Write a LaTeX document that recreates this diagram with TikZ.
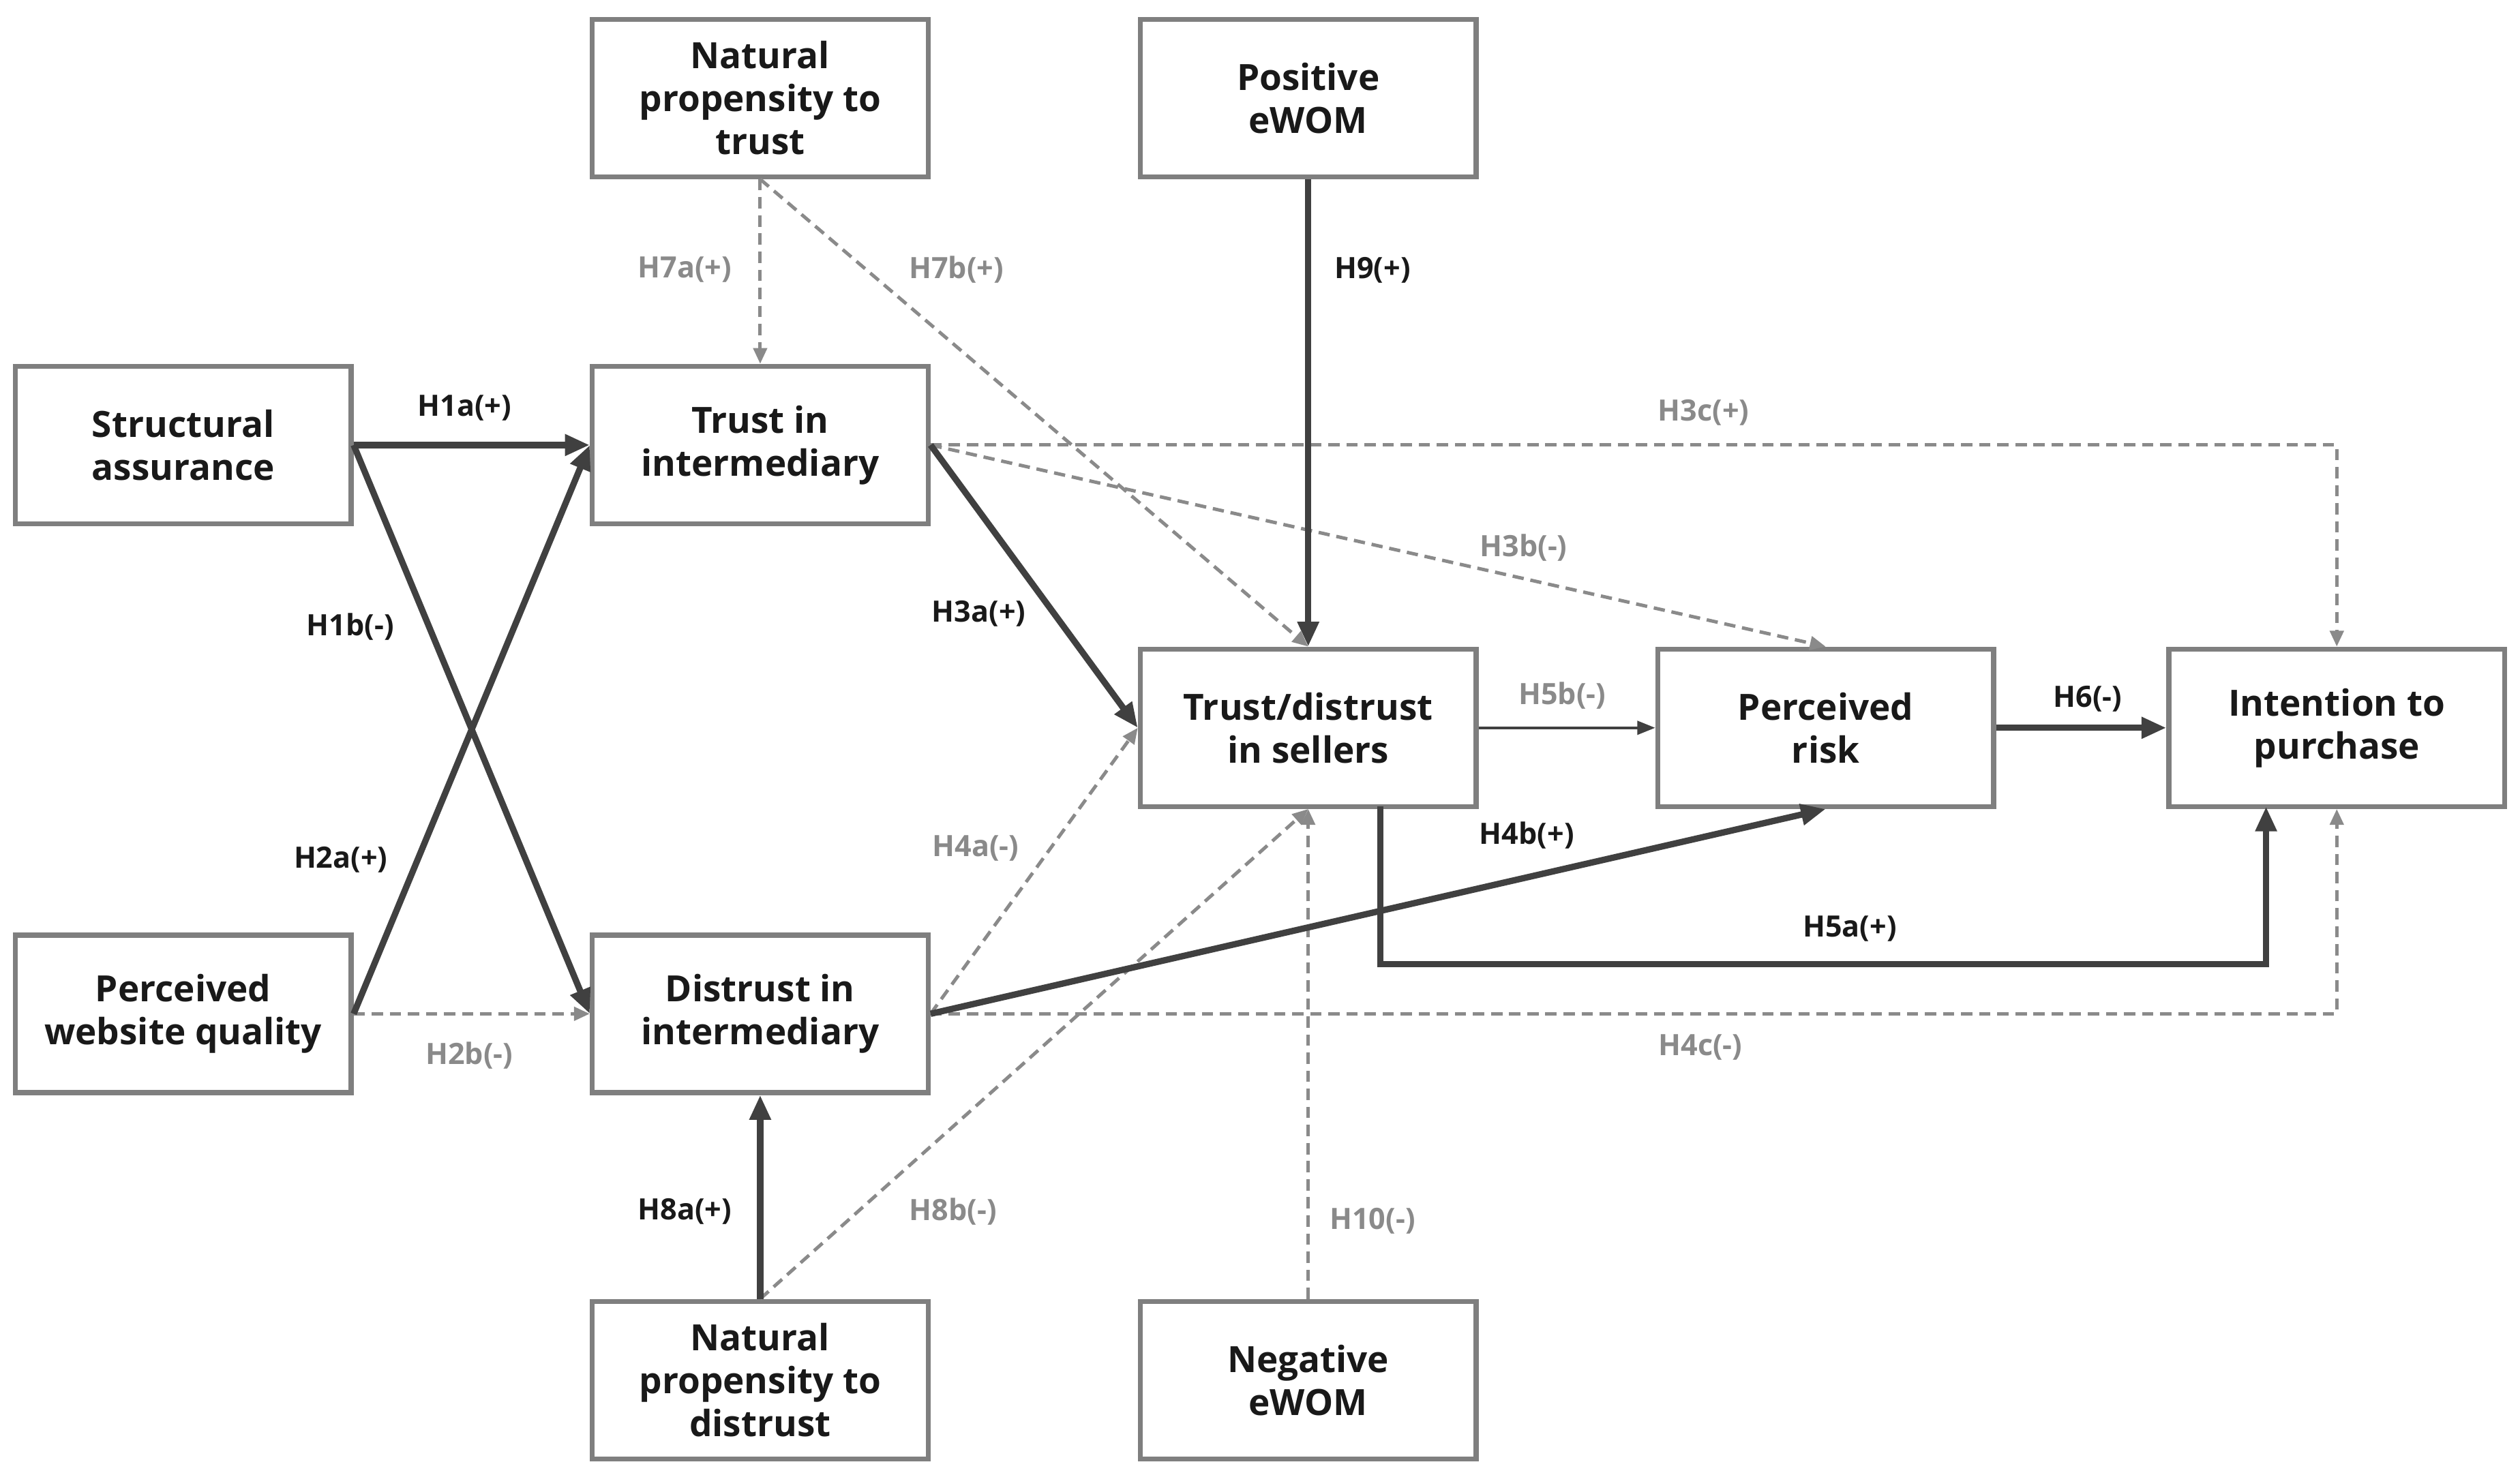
\documentclass[tikz,border=0pt]{standalone}
\usepackage{fontspec}
\setmainfont{Open Sans}
\usetikzlibrary{arrows.meta}
\definecolor{bx}{HTML}{7F7F7F}
\definecolor{dk}{HTML}{404040}
\definecolor{gr}{HTML}{8A8A8A}
\begin{document}
\begin{tikzpicture}[x=0.025cm,y=-0.025cm,
 box/.style={draw=bx,line width=2.2pt,minimum width=209*0.025cm,minimum height=98*0.025cm,align=center,font=\fontsize{16}{19}\selectfont\bfseries,text=black!90,inner sep=0pt},
 sol/.style={draw=dk,line width=2.8pt,-{Triangle[length=11pt,width=9pt]}},
 thin/.style={draw=dk,line width=1.3pt,-{Triangle[length=8pt,width=6pt]}},
 das/.style={draw=gr,line width=1.5pt,dash pattern=on 5pt off 3pt,-{Triangle[length=7pt,width=6pt]}},
 lb/.style={font=\fontsize{13}{15}\selectfont\bfseries,text=black!90},
 lg/.style={font=\fontsize{13}{15}\selectfont\bfseries,text=gr}]
\useasboundingbox (0,0) rectangle (1568,918);
\node[box] (sa) at (114,277) {Structural\\assurance};
\node[box] (pwq) at (114,631) {Perceived\\website quality};
\node[box] (npt) at (473,61) {Natural\\propensity to\\trust};
\node[box] (ti) at (473,277) {Trust in\\intermediary};
\node[box] (di) at (473,631) {Distrust in\\intermediary};
\node[box] (npd) at (473,859) {Natural\\propensity to\\distrust};
\node[box] (pe) at (814,61) {Positive\\eWOM};
\node[box] (ts) at (814,453) {Trust/distrust\\in sellers};
\node[box] (ne) at (814,859) {Negative\\eWOM};
\node[box] (pr) at (1136,453) {Perceived\\risk};
\node[box] (ip) at (1454,453) {Intention to\\purchase};
% dashed
\draw[das] (pwq.east) -- (di.west);
\draw[das] (npt.south) -- (ti.north);
\draw[das] (npt.south) -- (ts.north);
\draw[das] (ti.east) -- (pr.north);
\draw[das] (ti.east) -- (1454,277) -- (ip.north);
\draw[das] (di.east) -- (ts.west);
\draw[das] (di.east) -- (1454,631) -- (ip.south);
\draw[das] (npd.north) -- (ts.south);
\draw[das] (ne.north) -- (ts.south);
% solid
\draw[sol] (sa.east) -- (ti.west);
\draw[sol] (sa.east) -- (di.west);
\draw[sol] (pwq.east) -- (ti.west);
\draw[sol] (ti.east) -- (ts.west);
\draw[sol] (pe.south) -- (ts.north);
\draw[thin] (ts.east) -- (pr.west);
\draw[sol] (pr.east) -- (ip.west);
\draw[sol] (di.east) -- (pr.south);
\coordinate (a5) at (859,502);
\coordinate (b5) at (1410,502);
\draw[sol] (a5) -- (859,600) -- (1410,600) -- (b5);
\draw[sol] (npd.north) -- (di.south);
% labels
\node[lb] at (289,254) {H1a(+)};
\node[lb] at (218,390) {H1b(-)};
\node[lb] at (212,535) {H2a(+)};
\node[lg] at (292,657) {H2b(-)};
\node[lg] at (426,168) {H7a(+)};
\node[lg] at (595,168) {H7b(+)};
\node[lb] at (854,168) {H9(+)};
\node[lg] at (1060,257) {H3c(+)};
\node[lg] at (948,341) {H3b(-)};
\node[lb] at (609,382) {H3a(+)};
\node[lg] at (972,433) {H5b(-)};
\node[lb] at (1299,435) {H6(-)};
\node[lg] at (607,528) {H4a(-)};
\node[lb] at (950,520) {H4b(+)};
\node[lb] at (1151,578) {H5a(+)};
\node[lg] at (1058,652) {H4c(-)};
\node[lb] at (426,754) {H8a(+)};
\node[lg] at (593,754) {H8b(-)};
\node[lg] at (854,760) {H10(-)};
\end{tikzpicture}
\end{document}
